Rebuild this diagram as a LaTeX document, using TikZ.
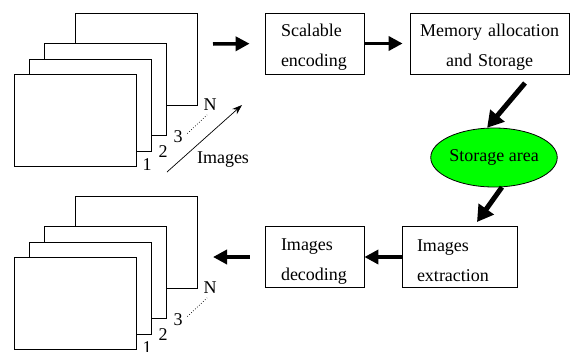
\documentclass[tikz,border=0pt]{standalone}
\usepackage{fontspec}
\setmainfont{Liberation Serif}
\usetikzlibrary{arrows.meta,shapes.geometric}
\newcommand{\boxfont}{\fontsize{18}{30}\selectfont}
\tikzset{
  sheet/.style={draw, fill=white, line width=0.8pt, inner sep=0pt,
    minimum width=122pt, minimum height=92pt, anchor=north west},
  stage/.style={draw, line width=0.8pt, inner xsep=16pt, text width=67pt,
    minimum height=61pt, align=left, font=\boxfont,
    execute at begin node={\rule{0pt}{20pt}}},
  numlabel/.style={inner sep=1pt, font=\boxfont},
  fat/.style={line width=3.5pt, -{Triangle[length=14pt,width=14pt]}},
  fatter/.style={line width=5pt, -{Triangle[length=16pt,width=18pt]}},
  thin/.style={line width=0.7pt, -{Stealth[length=10pt,width=7pt]}}
}
\begin{document}
\begin{tikzpicture}[x=1pt,y=-1pt]
  \useasboundingbox (0,0) rectangle (570,351);
  % the two stacks of images
  \foreach \s/\dy in {a/0,b/183} {
    \foreach \k/\x/\y in {4/75/13,3/44/43,2/29/59,1/14/74}
      \node[sheet] (\s\k) at (\x,{\y+\dy}) {};
    \node[numlabel] (\s n1) at (147,{165+\dy}) {1};
    \node[numlabel] (\s n2) at (163,{152+\dy}) {2};
    \node[numlabel] (\s n3) at (178,{137+\dy}) {3};
    \node[numlabel] (\s nN) at (210,{105+\dy}) {N};
    \draw[dotted, line width=0.7pt, shorten <=5pt, shorten >=4pt]
      (\s n3.east) -- (\s nN.south);
  }
  \node[numlabel] (imgs) at (223,160) {Images};
  \coordinate (imgfrom) at (167,172);
  \coordinate (imgto) at (242,105);
  \draw[thin] (imgfrom) -- (imgto);
  % processing stages
  \node[stage] (scal) at (314.5,43.5) {Scalable\\encoding};
  \node[stage, inner xsep=8pt, text width=143pt, align=center] (mem)
    at (489.5,43.5) {Memory allocation\\and Storage};
  \node[ellipse, draw, fill=green, line width=0.8pt, minimum width=122pt,
    minimum height=59pt, inner sep=0pt, font=\boxfont] (store) at (494,157.5)
    {Storage area};
  \node[stage, inner xsep=15pt, text width=85pt] (ext) at (459.5,257)
    {Images\\extraction};
  \node[stage] (dec) at (314.5,257) {Images\\decoding};
  % connectors
  \coordinate (ain) at (213,44);
  \coordinate (aout) at (213,257);
  \coordinate (mout) at (525,83);
  \coordinate (xin) at (477,222);
  \draw[fat, shorten >=15pt] (ain) -- (scal.west);
  \draw[fat, shorten >=7pt] (scal) -- (mem);
  \draw[fatter] (mout) -- (store.103);
  \draw[fatter] (store.-75) -- (xin);
  \draw[fat] (ext) -- (dec);
  \draw[fat, shorten <=15pt] (dec.west) -- (aout);
\end{tikzpicture}
\end{document}
